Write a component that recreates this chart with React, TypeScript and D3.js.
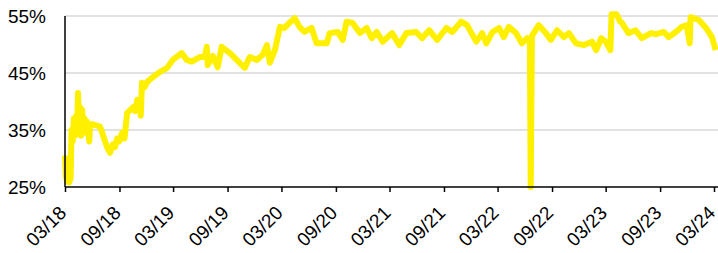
import * as React from 'react';
import { useRef, useEffect } from 'react';
import * as d3 from 'd3';

// share series (weekly-ish samples)
const dates = [
  '2018-03-01', '2018-03-04', '2018-03-08', '2018-03-15', '2018-03-20', '2018-03-23', '2018-03-27', '2018-03-31',
  '2018-04-04', '2018-04-08', '2018-04-11', '2018-04-14', '2018-04-17', '2018-04-21', '2018-04-24', '2018-04-28',
  '2018-05-02', '2018-05-06', '2018-05-10', '2018-05-14', '2018-05-18', '2018-05-22', '2018-05-25', '2018-06-04',
  '2018-06-14', '2018-06-27', '2018-07-05', '2018-07-11', '2018-07-21', '2018-07-31', '2018-08-10', '2018-08-17',
  '2018-08-24', '2018-08-31', '2018-09-10', '2018-09-18', '2018-09-27', '2018-10-07', '2018-10-17', '2018-10-24',
  '2018-10-31', '2018-11-07', '2018-11-12', '2018-11-16', '2018-11-25', '2018-12-03', '2018-12-23', '2019-01-16',
  '2019-02-09', '2019-02-28', '2019-03-30', '2019-04-16', '2019-05-03', '2019-05-30', '2019-06-16', '2019-06-23',
  '2019-06-26', '2019-07-13', '2019-07-30', '2019-08-12', '2019-09-09', '2019-10-02', '2019-10-29', '2019-11-15',
  '2019-12-09', '2019-12-29', '2020-01-12', '2020-01-22', '2020-02-08', '2020-02-25', '2020-03-11', '2020-03-28',
  '2020-04-15', '2020-05-01', '2020-05-18', '2020-06-11', '2020-06-28', '2020-07-14', '2020-08-01', '2020-08-11',
  '2020-09-07', '2020-09-24', '2020-10-07', '2020-10-27', '2020-11-21', '2020-12-14', '2020-12-31', '2021-01-17',
  '2021-02-06', '2021-03-10', '2021-04-03', '2021-04-27', '2021-05-30', '2021-06-19', '2021-07-13', '2021-08-09',
  '2021-09-09', '2021-09-29', '2021-10-29', '2021-11-18', '2021-12-19', '2022-01-08', '2022-01-22', '2022-02-12',
  '2022-03-06', '2022-03-22', '2022-04-08', '2022-05-02', '2022-05-22', '2022-06-08', '2022-06-18', '2022-06-21',
  '2022-06-25', '2022-07-01', '2022-07-18', '2022-08-11', '2022-08-28', '2022-09-18', '2022-10-11', '2022-10-28',
  '2022-11-21', '2022-12-18', '2023-01-14', '2023-01-28', '2023-02-14', '2023-03-01', '2023-03-17', '2023-03-21',
  '2023-04-07', '2023-04-19', '2023-04-25', '2023-05-17', '2023-06-10', '2023-07-01', '2023-08-01', '2023-08-19',
  '2023-09-13', '2023-09-30', '2023-10-24', '2023-11-13', '2023-11-30', '2023-12-10', '2023-12-13', '2024-01-10',
  '2024-02-03', '2024-02-23', '2024-03-07',
];
const values = [
  30.5, 27, 26, 25.8, 26.5, 35, 33, 37,
  34, 37.5, 35, 41.5, 36, 39, 34, 38.5,
  35, 37, 34.5, 36.5, 35, 33, 36, 36,
  35.8, 35.6, 34.5, 33.5, 32, 31, 32.5, 32,
  33.5, 33, 34.5, 33.5, 38, 38.5, 39, 38.3,
  40.3, 40, 37.5, 43.3, 42.5, 43.4, 44.3, 45.2,
  45.9, 47.3, 48.5, 47.3, 47, 47.8, 47.8, 49.6,
  46.4, 48, 46, 49.6, 48.5, 47.3, 45.9, 47.8,
  47.3, 48.2, 49.9, 46.8, 49, 53.1, 52.9, 53.8,
  54.6, 53.1, 52.2, 52.9, 50.2, 50.2, 50.2, 52,
  52.2, 50.8, 54, 53.8, 52, 52.9, 51.1, 52.2,
  50.5, 52, 49.9, 52, 52.2, 51.1, 52.5, 50.8,
  52.9, 52.2, 54, 53.4, 50.5, 52, 50.2, 52.2,
  52.9, 51.3, 53.1, 52, 50.2, 51.1, 50.5, 25,
  51.5, 52, 53.4, 52, 50.8, 52.5, 51.3, 52,
  50.2, 49.9, 50.5, 49, 51.1, 50.5, 49, 55.3,
  55.3, 54, 53.8, 52, 52.5, 51.1, 52, 51.8,
  52.2, 51.3, 52.2, 53.1, 53.4, 50.2, 54.8, 54.3,
  52.9, 51.3, 49,
];
const tickLabels = ['03/18', '09/18', '03/19', '09/19', '03/20', '09/20', '03/21', '09/21', '03/22', '09/22', '03/23', '09/23', '03/24'];
const yTicks = [25, 35, 45, 55];

type Point = { date: Date; value: number };

export default function App() {
  const svgRef = useRef<SVGSVGElement>(null);
  const width = 718;
  const height = 253;
  const margin = { top: 16, right: 4, bottom: 66, left: 65 };

  useEffect(() => {
    if (!svgRef.current) return;
    const svg = d3.select(svgRef.current);
    svg.selectAll('*').remove();

    const parse = d3.timeParse('%Y-%m-%d');
    const data: Point[] = dates.map((d, i) => ({ date: parse(d) as Date, value: values[i] }));
    const tickDates = tickLabels.map((t) => {
      const [mm, yy] = t.split('/');
      return new Date(2000 + +yy, +mm - 1, 1);
    });

    const xScale = d3.scaleTime()
      .domain([tickDates[0], tickDates[tickDates.length - 1]])
      .range([margin.left, width - margin.right]);
    const yScale = d3.scaleLinear()
      .domain([25, 55])
      .range([height - margin.bottom, margin.top]);

    // gridlines
    svg.append('g')
      .selectAll('line')
      .data(yTicks.filter((t) => t !== 25))
      .join('line')
      .attr('x1', margin.left)
      .attr('x2', width)
      .attr('y1', (d) => yScale(d))
      .attr('y2', (d) => yScale(d))
      .attr('stroke', '#d9d9d9')
      .attr('stroke-width', 1.5);

    const line = d3.line<Point>()
      .x((d) => xScale(d.date))
      .y((d) => yScale(d.value));

    svg.append('path')
      .datum(data)
      .attr('fill', 'none')
      .attr('stroke', '#fff000')
      .attr('stroke-width', 6)
      .attr('stroke-linejoin', 'round')
      .attr('d', line);

    // x axis
    const xAxis = svg.append('g')
      .attr('transform', `translate(0,${yScale(25)})`)
      .call(d3.axisBottom(xScale).tickValues(tickDates).tickSize(5).tickSizeOuter(0).tickFormat((_, i) => tickLabels[i]));
    xAxis.select('.domain').attr('stroke', '#000').attr('stroke-width', 1.5).attr('d', `M${margin.left},0H${width}`);
    xAxis.selectAll('.tick line').attr('stroke', '#000').attr('stroke-width', 1.5);
    xAxis.selectAll('.tick text')
      .attr('font-family', 'Liberation Sans, Arial, sans-serif')
      .attr('font-size', 19)
      .attr('fill', '#000')
      .attr('text-anchor', 'end')
      .attr('dy', null)
      .attr('y', 0)
      .attr('transform', 'translate(2,27) rotate(-45)');

    // y axis
    svg.append('line')
      .attr('x1', margin.left)
      .attr('x2', margin.left)
      .attr('y1', yScale(55))
      .attr('y2', yScale(25))
      .attr('stroke', '#000')
      .attr('stroke-width', 1.5);
    svg.append('g')
      .selectAll('text')
      .data(yTicks)
      .join('text')
      .attr('x', 46)
      .attr('y', (d) => yScale(d))
      .attr('dy', '0.35em')
      .attr('text-anchor', 'end')
      .attr('font-family', 'Liberation Sans, Arial, sans-serif')
      .attr('font-size', 19)
      .attr('fill', '#000')
      .text((d) => `${d}%`);
  }, []);

  return (
    <svg ref={svgRef} width={width} height={height}
      style={{ position: 'absolute', left: 0, top: 0, background: '#fff' }} />
  );
}
